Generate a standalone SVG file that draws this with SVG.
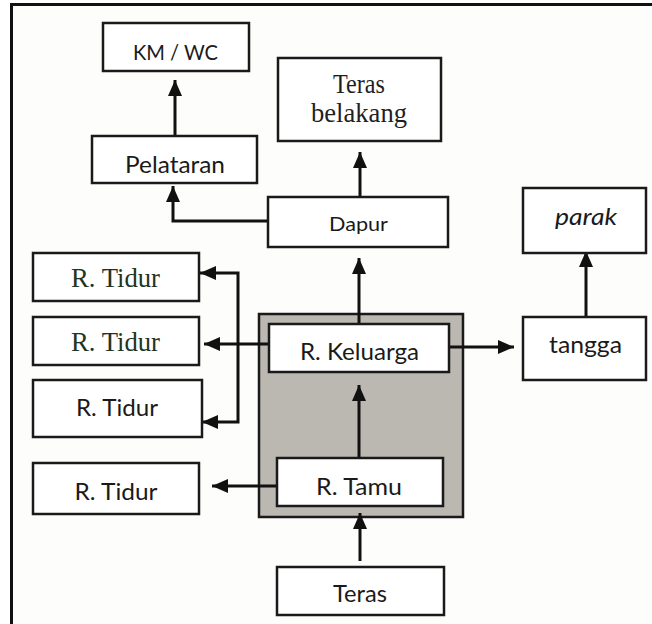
<svg xmlns="http://www.w3.org/2000/svg" width="652" height="624" viewBox="0 0 652 624">
  <style>
    .box { fill: #ffffff; stroke: #1a1a1a; stroke-width: 2.5; }
    .sans { font-family: Lato, "Open Sans", "Liberation Sans", sans-serif; font-size: 24px; fill: #1a1a1a; text-anchor: middle; }
    .serif { font-family: "Liberation Serif", "DejaVu Serif", serif; font-size: 28px; fill: #1f1f1f; text-anchor: middle; }
    .green { fill: #22341e; }
    .wire { fill: none; stroke: #111111; stroke-width: 3; }
  </style>
  <defs>
    <marker id="head" viewBox="0 0 16 14" refX="16" refY="7" markerWidth="16" markerHeight="14" markerUnits="userSpaceOnUse" orient="auto">
      <path d="M0,0 L16,7 L0,14 Z" fill="#111111"/>
    </marker>
  </defs>

  <!-- page background and frame -->
  <rect x="0" y="0" width="652" height="624" fill="#ffffff"/>
  <rect x="11" y="5" width="641" height="619" fill="#fdfdfb"/>
  <path d="M11.5,624 V4.5 H652" fill="none" stroke="#111111" stroke-width="3"/>

  <!-- core zone -->
  <rect id="core" x="259" y="314" width="204" height="203" fill="#bbb7b1" stroke="#1a1a1a" stroke-width="2.5"/>

  <!-- connectors -->
  <g id="connectors">
    <line class="wire" x1="175" y1="135" x2="175" y2="80" marker-end="url(#head)"/>
    <polyline class="wire" points="268,221 173,221 173,186" marker-end="url(#head)"/>
    <line class="wire" x1="360" y1="197" x2="360" y2="152" marker-end="url(#head)"/>
    <line class="wire" x1="359" y1="324" x2="359" y2="258" marker-end="url(#head)"/>
    <line class="wire" x1="586" y1="317" x2="586" y2="251" marker-end="url(#head)"/>
    <line class="wire" x1="449" y1="347" x2="514" y2="347" marker-end="url(#head)"/>
    <line class="wire" x1="269" y1="344" x2="204" y2="344" marker-end="url(#head)"/>
    <polyline class="wire" points="238,344 238,273 200,273" marker-end="url(#head)"/>
    <polyline class="wire" points="238,344 238,422 202,422" marker-end="url(#head)"/>
    <line class="wire" x1="359" y1="458" x2="359" y2="385" marker-end="url(#head)"/>
    <line class="wire" x1="277" y1="486" x2="212" y2="486" marker-end="url(#head)"/>
    <line class="wire" x1="360" y1="561" x2="360" y2="513" marker-end="url(#head)"/>
  </g>

  <!-- nodes -->
  <g id="km-wc">
    <rect class="box" x="103" y="23" width="146" height="48"/>
    <text class="sans" x="175.5" y="60" style="font-size:21px" textLength="85" lengthAdjust="spacingAndGlyphs">KM / WC</text>
  </g>
  <g id="pelataran">
    <rect class="box" x="92" y="136" width="165" height="47"/>
    <text class="sans" x="175" y="173" textLength="100" lengthAdjust="spacingAndGlyphs">Pelataran</text>
  </g>
  <g id="teras-belakang">
    <rect class="box" x="278" y="58" width="163" height="83"/>
    <text class="serif" x="359" y="93" textLength="52" lengthAdjust="spacingAndGlyphs">Teras</text>
    <text class="serif" x="359" y="122" textLength="96" lengthAdjust="spacingAndGlyphs">belakang</text>
  </g>
  <g id="dapur">
    <rect class="box" x="268" y="197" width="180" height="50"/>
    <text class="sans" x="358.5" y="231" style="font-size:20px" textLength="59" lengthAdjust="spacingAndGlyphs">Dapur</text>
  </g>
  <g id="parak">
    <rect class="box" x="523" y="188" width="123" height="65"/>
    <text class="sans" x="586" y="225" style="font-size:23px" font-style="italic" textLength="62" lengthAdjust="spacingAndGlyphs">parak</text>
  </g>
  <g id="tangga">
    <rect class="box" x="523" y="317" width="123" height="63"/>
    <text class="sans" x="585.5" y="353" textLength="73" lengthAdjust="spacingAndGlyphs">tangga</text>
  </g>
  <g id="r-tidur-1">
    <rect class="box" x="33" y="253" width="166" height="48"/>
    <text class="serif green" x="115.5" y="287" textLength="89" lengthAdjust="spacingAndGlyphs">R. Tidur</text>
  </g>
  <g id="r-tidur-2">
    <rect class="box" x="33" y="317" width="166" height="48"/>
    <text class="serif green" x="115.5" y="351" textLength="89" lengthAdjust="spacingAndGlyphs">R. Tidur</text>
  </g>
  <g id="r-tidur-3">
    <rect class="box" x="33" y="380" width="169" height="57"/>
    <text class="sans" x="117" y="416" style="font-size:23px" textLength="82" lengthAdjust="spacingAndGlyphs">R. Tidur</text>
  </g>
  <g id="r-tidur-4">
    <rect class="box" x="33" y="463" width="166" height="51"/>
    <text class="sans" x="116" y="500" style="font-size:23px" textLength="83" lengthAdjust="spacingAndGlyphs">R. Tidur</text>
  </g>
  <g id="r-keluarga">
    <rect class="box" x="269" y="324" width="180" height="48"/>
    <text class="sans" x="359.5" y="360" textLength="119" lengthAdjust="spacingAndGlyphs">R. Keluarga</text>
  </g>
  <g id="r-tamu">
    <rect class="box" x="277" y="458" width="166" height="48"/>
    <text class="sans" x="359" y="495" style="font-size:23px" textLength="86" lengthAdjust="spacingAndGlyphs">R. Tamu</text>
  </g>
  <g id="teras">
    <rect class="box" x="277" y="567" width="167" height="48"/>
    <text class="sans" x="360" y="602" textLength="54" lengthAdjust="spacingAndGlyphs">Teras</text>
  </g>
</svg>
